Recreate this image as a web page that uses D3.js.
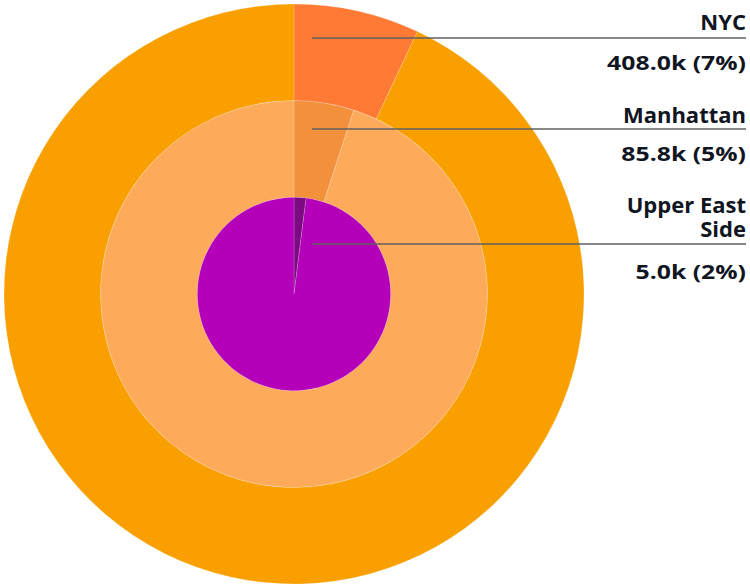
<!DOCTYPE html>
<html><head><meta charset="utf-8">
<script src="https://cdn.jsdelivr.net/npm/d3@7"></script>
<style>body{margin:0;background:#fff}svg{display:block}</style>
</head><body>
<svg id="c" width="750" height="587"></svg>
<script>
const levels = ["NYC", "Manhattan", "Upper East Side"];
const labelLines = [["NYC"], ["Manhattan"], ["Upper East", "Side"]];
const valuesK = [408.0, 85.8, 5.0];
const shares = [0.07, 0.05, 0.02];
const sliceColors = ["#FF7A35", "#F2903C", "#7C0A82"];
const restColors = ["#F9A000", "#FDAA5A", "#B400B8"];

const svg = d3.select("#c");
const cx = 294, cy = 294;
const radius = d3.scaleLinear().domain([0, 3]).range([290, 0]);
const g = svg.append("g").attr("transform", `translate(${cx},${cy})`);

levels.forEach((lv, i) => {
  const outer = radius(i), inner = i === 2 ? 0 : radius(i + 1);
  const pie = d3.pie().sort(null).value(d => d)([shares[i], 1 - shares[i]]);
  const arc = d3.arc().innerRadius(inner).outerRadius(outer);
  g.selectAll(null).data(pie).enter().append("path")
    .attr("d", arc)
    .attr("fill", (d, j) => j === 0 ? sliceColors[i] : restColors[i])
    .attr("stroke", "rgba(255,255,255,0.22)")
    .attr("stroke-width", 0.8);
});

const lineY = [38, 129, 244];
const nameBase = [29.5, 122.5, 212.5];
const valBase = [70, 161, 278.5];
const right = 746;
const fmt = (v, s) => `${v.toFixed(1)}k (${Math.round(s * 100)}%)`;
levels.forEach((lv, i) => {
  svg.append("line").attr("x1", 312).attr("x2", right)
    .attr("y1", lineY[i]).attr("y2", lineY[i])
    .attr("stroke", "#606060").attr("stroke-width", 1.6);
  const t = svg.append("text").attr("text-anchor", "end")
    .attr("font-family", "Open Sans").attr("font-weight", 700).attr("font-size", 22)
    .attr("fill", "#10151f");
  labelLines[i].forEach((ln, k) => {
    t.append("tspan").attr("x", right).attr("y", nameBase[i] + k * 24.2).text(ln);
  });
  svg.append("g").attr("transform", `translate(${right},${valBase[i]}) scale(1.24,1)`)
    .append("text").attr("text-anchor", "end").attr("x", 0).attr("y", 0)
    .attr("font-family", "Open Sans").attr("font-weight", 700).attr("font-size", 20)
    .attr("fill", "#10151f").text(fmt(valuesK[i], shares[i]));
});
</script>
</body></html>
